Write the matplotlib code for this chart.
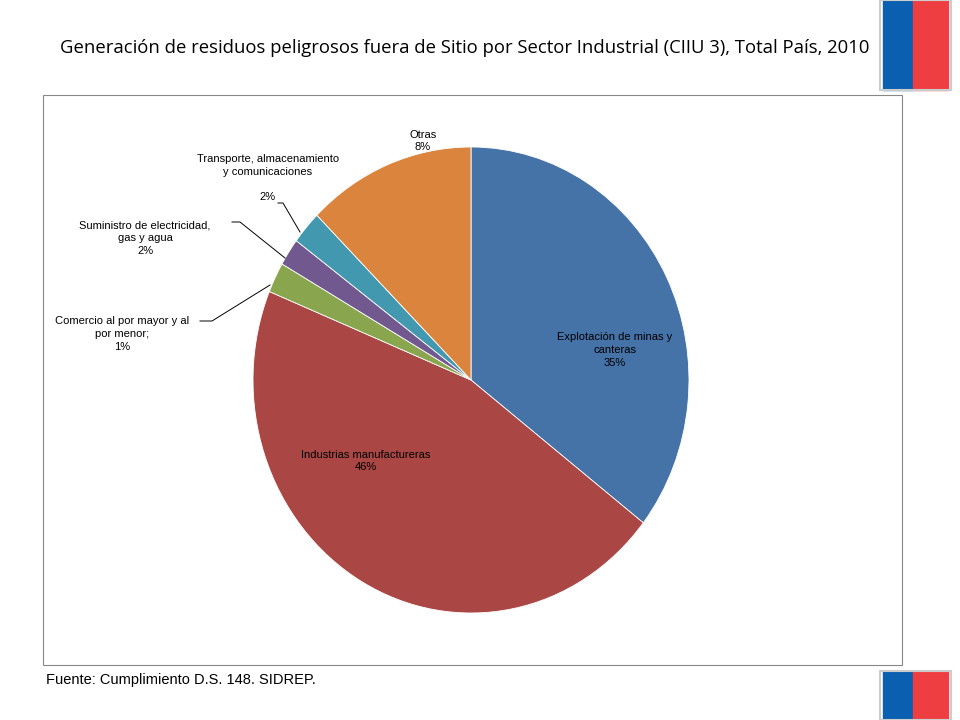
import matplotlib
matplotlib.use("Agg")
import matplotlib.pyplot as plt
from matplotlib.patches import Rectangle

categories = ["Explotación de minas y\ncanteras", "Industrias manufactureras", "Comercio al por mayor y al\npor menor;",
              "Suministro de electricidad,\ngas y agua", "Transporte, almacenamiento\ny comunicaciones", "Otras"]
values = [35.5, 45.7, 2.1, 1.9, 2.3, 12.5]
pct_labels = ["35%", "46%", "1%", "2%", "2%", "8%"]
colors = ["#4572A7", "#AA4643", "#89A54E", "#71588F", "#4198AF", "#DB843D"]

W, H = 960, 720
fig = plt.figure(figsize=(9.6, 7.2), dpi=100)
bg = fig.add_axes([0, 0, 1, 1]); bg.set_xlim(0, W); bg.set_ylim(H, 0); bg.axis("off")
bg.add_patch(Rectangle((43, 95), 859, 570, fill=False, ec="#888888", lw=0.8))
for y0, h in [(0, 90), (671, 49)]:
    bg.add_patch(Rectangle((883, y0), 30, h, color="#0A5FB0"))
    bg.add_patch(Rectangle((913, y0), 35, h, color="#EE3E42"))
    bg.add_patch(Rectangle((880, y0), 71, h, fill=False, ec="#cccccc", lw=1.5))
bg.text(465, 48, "Generación de residuos peligrosos fuera de Sitio por Sector Industrial (CIIU 3), Total País, 2010",
        ha="center", va="center", fontsize=13.3, family="Open Sans")
bg.text(46, 680, "Fuente: Cumplimiento D.S. 148. SIDREP.", ha="left", va="center", fontsize=10.5, family="Liberation Sans")

cx, cy, rx, ry = 471, 380, 218, 233
ax = fig.add_axes([(cx - rx) / W, 1 - (cy + ry) / H, 2 * rx / W, 2 * ry / H])
ax.pie(values, colors=colors, startangle=90, counterclock=False, radius=1,
       wedgeprops=dict(linewidth=0.6, edgecolor="white"))
ax.set_xlim(-1, 1); ax.set_ylim(-1, 1); ax.set_aspect("auto")

top = fig.add_axes([0, 0, 1, 1]); top.set_xlim(0, W); top.set_ylim(H, 0); top.axis("off")
top.patch.set_alpha(0)
fs = 8
txt = [(f"{categories[0]}\n{pct_labels[0]}", 615, 350),
       (f"{categories[1]}\n{pct_labels[1]}", 366, 461),
       (f"{categories[2]}\n{pct_labels[2]}", 122, 334),
       (f"{categories[3]}\n{pct_labels[3]}", 145, 238),
       (f"{categories[4]}\n\n{pct_labels[4]}", 268, 178),
       (f"{categories[5]}\n{pct_labels[5]}", 423, 141)]
for t, x, y in txt:
    top.text(x, y, t, ha="center", va="center", fontsize=fs, family="Liberation Sans", linespacing=1.35)
top.plot([200, 212, 270], [321, 321, 285], color="black", lw=0.7)
top.plot([232, 240, 285], [222, 222, 258], color="black", lw=0.7)
top.plot([278, 283, 300], [203, 203, 232], color="black", lw=0.7)
fig.savefig("out.png", dpi=100)
